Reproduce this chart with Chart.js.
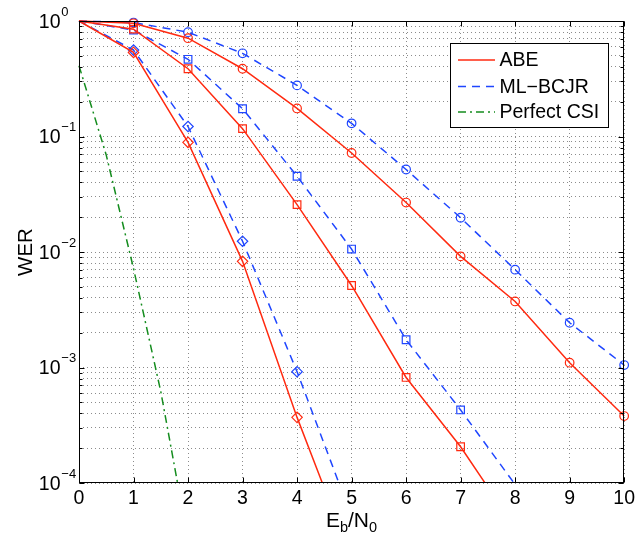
<!DOCTYPE html>
<html>
<head>
<meta charset="utf-8">
<script src="https://cdn.jsdelivr.net/npm/chart.js@4.4.1/dist/chart.umd.min.js"></script>
<style>
  html, body { margin: 0; padding: 0; background: #fff; }
  canvas { display: block; }
</style>
</head>
<body>
<canvas id="werChart" width="639" height="534"></canvas>
<script>
// Eb/N0 axis (dB)
const ebno = [0, 1, 2, 3, 4, 5, 6, 7, 8, 9, 10];

// WER curves (circle / square / diamond families)
const abeCircle = [1, 0.955, 0.71, 0.386, 0.175, 0.072, 0.0268, 0.00916, 0.00373, 0.0011, 0.00038];
const bcjrCircle = [1, 0.97, 0.80, 0.525, 0.277, 0.130, 0.0518, 0.0198, 0.00703, 0.00244, 0.00105];
const abeSquare = [1, 0.85, 0.386, 0.117, 0.0257, 0.00513, 0.00082, 0.000206, 0.000041];
const bcjrSquare = [1, 0.835, 0.466, 0.174, 0.0453, 0.0106, 0.00174, 0.000429, 0.000097];
const abeDiamond = [1, 0.535, 0.089, 0.0083, 0.00037, 0.000022];
const bcjrDiamond = [1, 0.56, 0.122, 0.0124, 0.00092, 0.000051];

// perfect CSI reference
const csiEbno = [0, 0.5, 1, 1.5, 2];
const csiWer = [0.41, 0.069, 0.0072, 0.00062, 0.000032];

const xTicks = [0, 1, 2, 3, 4, 5, 6, 7, 8, 9, 10];
const decades = [0, -1, -2, -3, -4];
const legendLabels = ["ABE", "ML\u2212BCJR", "Perfect CSI"];

const RED = "#ff2a10";
const BLUE = "#1f46ff";
const GREEN = "#148c1e";
const FONT = '"Liberation Sans", Arial, Helvetica, sans-serif';

// every minor/major position of the log axis
const yTicks = [];
decades.slice(1).forEach((e) => {
  for (let m = 1; m <= 9; m++) yTicks.push(m * Math.pow(10, e));
});
yTicks.push(1);

const markerRadius = { circle: 4.3, rect: 5.4, rectRot: 5.2 };

const makeSet = (label, ys, xs, color, dash, style, lastMarker) => ({
  label,
  data: ys.map((y, i) => ({ x: xs[i], y })),
  borderColor: color,
  borderWidth: 1.5,
  borderDash: dash,
  pointStyle: style || false,
  pointRadius: ys.map((y, i) => (style && i > 0 && i <= lastMarker ? markerRadius[style] : 0)),
  pointHoverRadius: 0,
  pointBorderColor: color,
  pointBackgroundColor: "rgba(0,0,0,0)",
  pointBorderWidth: 1.2,
  tension: 0,
  fill: false,
  clip: { left: 6, top: 6, right: 6, bottom: 0 },
});

const datasets = [
  makeSet("ABE", abeCircle, ebno, RED, [], "circle", 10),
  makeSet("ABE", abeSquare, ebno, RED, [], "rect", 7),
  makeSet("ABE", abeDiamond, ebno, RED, [], "rectRot", 4),
  makeSet("ML-BCJR", bcjrCircle, ebno, BLUE, [8, 6], "circle", 10),
  makeSet("ML-BCJR", bcjrSquare, ebno, BLUE, [8, 6], "rect", 7),
  makeSet("ML-BCJR", bcjrDiamond, ebno, BLUE, [8, 6], "rectRot", 4),
  makeSet("Perfect CSI", csiWer, csiEbno, GREEN, [8, 4, 2, 4], null, -1),
];

// MATLAB style frame, inward ticks, log labels, axis titles and legend
const matlabFrame = {
  id: "matlabFrame",
  afterDatasetsDraw(chart) {
    const { ctx, chartArea: a, scales } = chart;
    const xs = scales.x;
    const ys = scales.y;
    const L = Math.round(a.left) + 0.5;
    const R = Math.round(a.right) - 0.5;
    const T = Math.round(a.top) + 0.5;
    const B = Math.round(a.bottom) - 0.5;

    ctx.save();
    ctx.strokeStyle = "#000";
    ctx.lineWidth = 1;
    ctx.setLineDash([]);
    ctx.strokeRect(L, T, R - L, B - T);

    ctx.beginPath();
    xTicks.forEach((v) => {
      const px = Math.round(xs.getPixelForValue(v)) + 0.5;
      ctx.moveTo(px, B); ctx.lineTo(px, B - 5);
      ctx.moveTo(px, T); ctx.lineTo(px, T + 5);
    });
    yTicks.forEach((v) => {
      const py = Math.round(ys.getPixelForValue(v)) + 0.5;
      const len = Math.abs(Math.log10(v) - Math.round(Math.log10(v))) < 1e-9 ? 5 : 3;
      ctx.moveTo(L, py); ctx.lineTo(L + len, py);
      ctx.moveTo(R, py); ctx.lineTo(R - len, py);
    });
    ctx.stroke();

    // y tick labels 10^e : bases right-aligned, exponents left-aligned after them
    ctx.fillStyle = "#000";
    const baseRight = L - 19;
    decades.forEach((e) => {
      const py = ys.getPixelForValue(Math.pow(10, e));
      const expText = e === 0 ? "0" : "\u2212" + -e;
      ctx.textBaseline = "middle";
      ctx.font = "19.5px " + FONT;
      ctx.textAlign = "right";
      ctx.fillText("10", baseRight, py + 1.5);
      ctx.font = "13px " + FONT;
      ctx.textAlign = "left";
      ctx.fillText(expText, baseRight + 0.8, py - 9);
    });

    // y title
    ctx.save();
    ctx.translate(26, (T + B) / 2);
    ctx.rotate(-Math.PI / 2);
    ctx.font = "20.5px " + FONT;
    ctx.textAlign = "center";
    ctx.textBaseline = "middle";
    ctx.fillText("WER", 0, 0);
    ctx.restore();

    // x title E_b/N_0
    const parts = [
      ["E", 21, 0], ["b", 14.5, 5], ["/N", 21, 0], ["0", 14.5, 5],
    ];
    let total = 0;
    parts.forEach(([t, s]) => { ctx.font = s + "px " + FONT; total += ctx.measureText(t).width; });
    let cx = (L + R) / 2 - total / 2;
    ctx.textAlign = "left";
    ctx.textBaseline = "alphabetic";
    parts.forEach(([t, s, dy]) => {
      ctx.font = s + "px " + FONT;
      ctx.fillText(t, cx, 527 + dy);
      cx += ctx.measureText(t).width;
    });

    // legend
    const bx = 450.5, by = 43.5, bw = 158, bh = 84;
    ctx.fillStyle = "#fff";
    ctx.fillRect(bx, by, bw, bh);
    ctx.strokeStyle = "#000";
    ctx.strokeRect(bx, by, bw, bh);
    const rows = [60, 86.5, 112];
    const styles = [[RED, []], [BLUE, [8, 6]], [GREEN, [8, 4, 2, 4]]];
    legendLabels.forEach((lab, i) => {
      ctx.strokeStyle = styles[i][0];
      ctx.lineWidth = 1.5;
      ctx.setLineDash(styles[i][1]);
      ctx.beginPath();
      ctx.moveTo(458, rows[i]);
      ctx.lineTo(495, rows[i]);
      ctx.stroke();
      ctx.setLineDash([]);
      ctx.fillStyle = "#000";
      ctx.font = "19.5px " + FONT;
      ctx.textAlign = "left";
      ctx.textBaseline = "middle";
      ctx.fillText(lab, 499.5, rows[i] + 1);
    });
    ctx.restore();
  },
};

new Chart("werChart", {
  type: "line",
  data: { datasets },
  options: {
    responsive: false,
    animation: false,
    devicePixelRatio: 1,
    events: [],
    layout: { padding: { left: 79, top: 21, right: 11, bottom: 0 } },
    plugins: { legend: { display: false }, tooltip: { enabled: false } },
    scales: {
      x: {
        type: "linear",
        min: 0,
        max: 10,
        afterBuildTicks: (s) => { s.ticks = xTicks.map((v) => ({ value: v })); },
        afterFit: (s) => { s.height = 51; },
        ticks: {
          autoSkip: false,
          maxRotation: 0,
          padding: 4,
          color: "#000",
          font: { family: FONT, size: 19.5 },
        },
        grid: { color: "rgba(0,0,0,0.45)", lineWidth: 1, drawTicks: false },
        border: { display: false, dash: [1, 3] },
      },
      y: {
        type: "logarithmic",
        min: 1e-4,
        max: 1,
        afterBuildTicks: (s) => { s.ticks = yTicks.map((v) => ({ value: v })); },
        afterFit: (s) => { s.width = 0; },
        ticks: { display: false },
        grid: { color: "rgba(0,0,0,0.45)", lineWidth: 1, drawTicks: false },
        border: { display: false, dash: [1, 3] },
      },
    },
  },
  plugins: [matlabFrame],
});
</script>
</body>
</html>
